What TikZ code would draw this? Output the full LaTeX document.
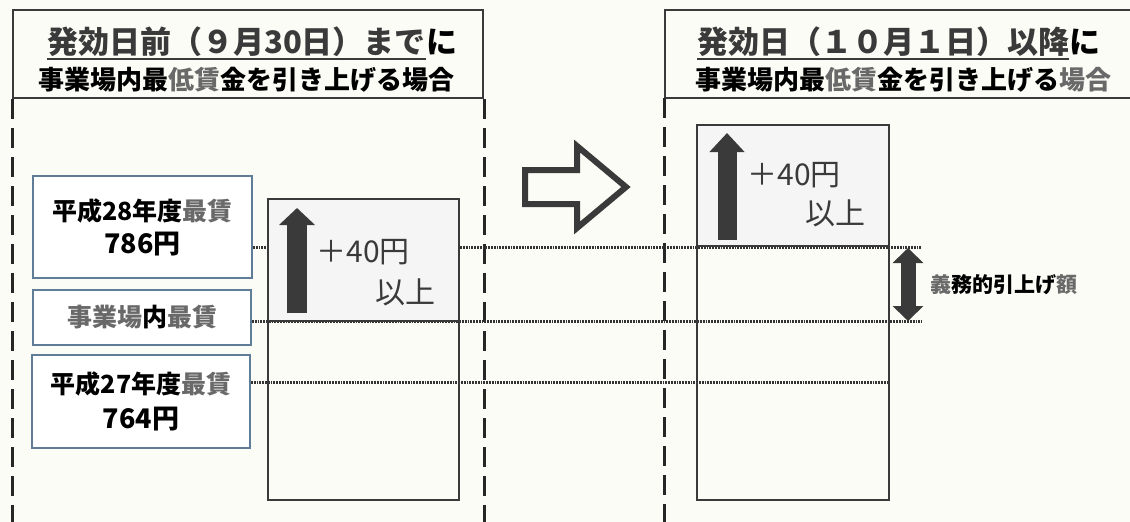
\documentclass[tikz,border=0pt]{standalone}
\usepackage{fontspec}
\newfontfamily\jp{Noto Sans CJK JP}
\usetikzlibrary{arrows.meta,positioning}
\definecolor{paper}{RGB}{252,252,246}
\definecolor{ink}{RGB}{58,58,58}
\definecolor{faded}{RGB}{105,105,105}
\definecolor{boxline}{RGB}{95,125,150}

\begin{document}
\begin{tikzpicture}[x=1pt,y=-1pt,font=\jp]
    \tikzstyle{header}=[draw=ink,line width=2pt]
    \tikzstyle{section line}=[draw=black!85,line width=3pt,dash pattern=on 20pt off 9pt]
    \tikzstyle{title}=[inner sep=0pt,font=\jp\bfseries\fontsize{31}{31}\selectfont]
    \tikzstyle{subtitle}=[inner sep=0pt,font=\jp\bfseries\fontsize{26}{26}\selectfont]
    \tikzstyle{wage}=[draw=boxline,line width=1.8pt,fill=white,inner sep=0pt,align=center,font=\jp\bfseries\fontsize{25}{33}\selectfont]
    \tikzstyle{bar}=[draw=ink,line width=2pt,inner sep=0pt,minimum width=191pt]
    \tikzstyle{raised}=[bar,fill=black!4]
    \tikzstyle{level}=[draw=black!80,line width=3pt,dash pattern=on 1.8pt off 1pt]
    \tikzstyle{rise}=[inner sep=0pt,text=ink,font=\jp\fontsize{30}{30}\selectfont]
    \tikzstyle{up arrow}=[draw=ink,line width=20pt,-{Triangle[length=17pt,width=35pt]}]

    % Page
    \fill[paper] (0,0) rectangle (1130,522);
    \useasboundingbox (0,0) rectangle (1130,522);

    % Draw the two headers
    \node[header,minimum width=470pt,minimum height=88pt] (hd-L) at (248,54) {};
    \node[inner sep=0pt,minimum width=465pt,minimum height=88pt] (hd-R) at (897.5,54) {};
    \draw[header] (hd-R.north east) -- (hd-R.north west) -- (hd-R.south west) -- (hd-R.south east);

    \node[title,anchor=base west,text=ink] (tt-L) at (47,53) {発効日前（９月30日）まで};
    \node[title,anchor=base west] (ni-L) at (tt-L.base east) {に};
    \draw[ink,line width=1.5pt] ([yshift=-6pt]tt-L.base west) -- ([yshift=-6pt]tt-L.base east);
    \node[subtitle,anchor=base] (st-L) at (246,89) {事業場内最{\color{faded}低賃}金を引き上げる場合};

    \node[title,anchor=base west,text=ink] (tt-R) at (697,53) {発効日（１０月１日）以降};
    \node[title,anchor=base west] (ni-R) at (tt-R.base east) {に};
    \draw[ink,line width=1.5pt] ([yshift=-6pt]tt-R.base west) -- ([yshift=-6pt]tt-R.base east);
    \node[subtitle,anchor=base] (st-R) at (903,89) {事業場内最{\color{faded}低賃}金を引き上げる{\color{faded}場合}};

    % Dashed section borders
    \coordinate (floor) at (0,522);
    \draw[section line] (hd-L.south west) -- (hd-L.south west |- floor);
    \draw[section line] (hd-L.south east) -- (hd-L.south east |- floor);
    \draw[section line] (hd-R.south west) -- (hd-R.south west |- floor);

    % Draw the wage boxes
    \node[wage,minimum width=219pt,minimum height=102pt] (W-1) at (142.5,227) {平成28年度{\color{faded}最賃}\\{\fontsize{27}{33}\selectfont 786円}};
    \node[wage,minimum width=218pt,minimum height=55pt] (W-2) at (142,317.5) {{\color{faded}事業場}内{\color{faded}最賃}};
    \node[wage,minimum width=218pt,minimum height=93pt,font=\jp\bfseries\fontsize{25}{35}\selectfont] (W-3) at (141,401.5) {平成27年度{\color{faded}最賃}\\{\fontsize{27}{35}\selectfont 764円}};

    % Level lines from every box across both sections
    \foreach \name/\x/\y in {1/922/247, 2/922/321, 3/889/382}
        \coordinate (lvl-\name) at (\x,\y);
    \foreach \name in {1,2,3}
        \draw[level] (W-\name.east |- lvl-\name) -- (lvl-\name);

    % Draw the bars
    \node[raised,minimum height=122pt] (L-up) at (363.5,260) {};
    \node[bar,minimum height=179pt] (L-low) at (363.5,410.5) {};
    \node[raised,minimum width=192pt,minimum height=121pt] (R-up) at (793,185.5) {};
    \node[bar,minimum width=192pt,minimum height=254pt] (R-low) at (793,373) {};

    % Raise arrows
    \coordinate (L-foot) at (297,313);
    \coordinate (L-tip) at (297,208);
    \coordinate (R-foot) at (727,240);
    \coordinate (R-tip) at (727,133);
    \draw[up arrow] (L-foot) -- (L-tip);
    \draw[up arrow,line width=19pt,-{Triangle[length=19pt,width=34pt]}] (R-foot) -- (R-tip);

    \node[rise] (inc-L) at (363,252) {＋40円};
    \node[rise] (min-L) at (405,292) {以上};
    \node[rise] (inc-R) at (794,175) {＋40円};
    \node[rise] (min-R) at (835,213) {以上};

    % Obligatory raise
    \coordinate (duty-top) at (908,248);
    \coordinate (duty-bot) at (908,321);
    \draw[draw=ink,line width=15pt,{Triangle[length=15pt,width=30pt]}-{Triangle[length=15pt,width=30pt]}] (duty-top) -- (duty-bot);
    \node[anchor=west,inner sep=0pt,font=\jp\bfseries\fontsize{21}{21}\selectfont] (duty) at (930,285) {{\color{faded}義}務的引上げ{\color{faded}額}};

    % Hollow arrow between the sections
    \draw[ink,line width=6pt,line join=miter] (525,170) -- (577,170) -- (577,146) -- (626,187) -- (577,228) -- (577,204) -- (525,204) -- cycle;
\end{tikzpicture}
\end{document}
